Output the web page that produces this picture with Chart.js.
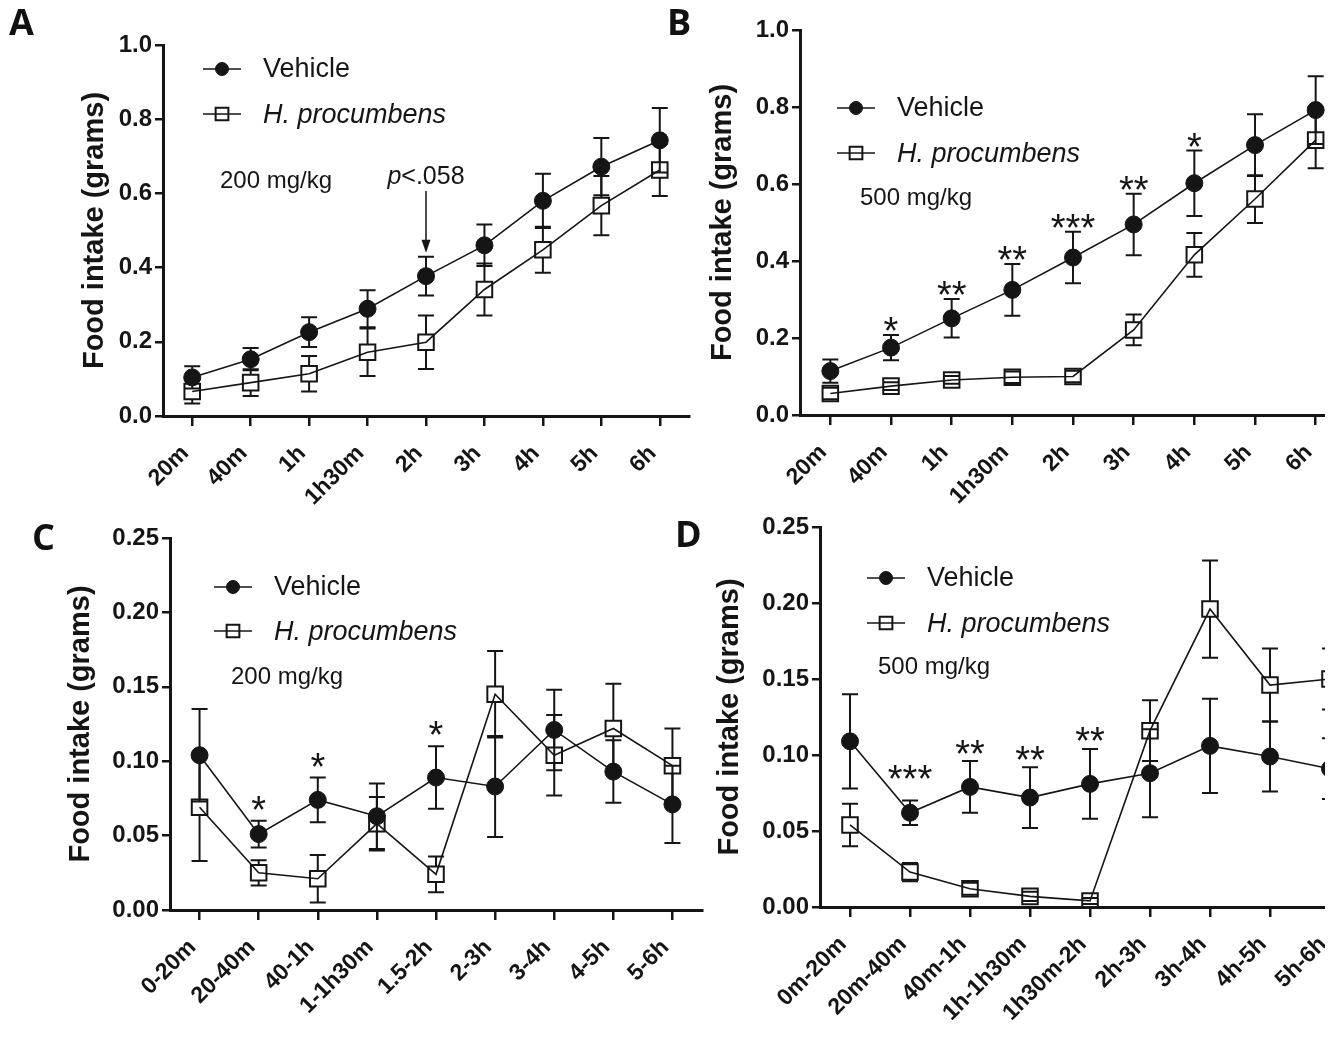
<!DOCTYPE html>
<html>
<head>
<meta charset="utf-8">
<title>Food intake</title>
<script src="https://cdn.jsdelivr.net/npm/chart.js@4.4.1/dist/chart.umd.min.js"></script>
<style>
  html, body { margin: 0; padding: 0; background: #fff; }
  #figure { position: relative; width: 1325px; height: 1039px; overflow: hidden; background: #fff; }
  .panel { position: absolute; }
  .letter { position: absolute; font: bold 36px 'Open Sans', 'Liberation Sans', sans-serif; line-height: 1; color: #111; }
</style>
</head>
<body>
<div id="figure">
  <div class="panel" style="left:0;top:0"><canvas id="chartA" width="702" height="510"></canvas></div>
  <div class="panel" style="left:690px;top:0"><canvas id="chartB" width="669" height="510"></canvas></div>
  <div class="panel" style="left:0;top:500px"><canvas id="chartC" width="715" height="539"></canvas></div>
  <div class="panel" style="left:700px;top:500px"><canvas id="chartD" width="673" height="539"></canvas></div>
  <div class="letter" style="left:9px;top:4px">A</div>
  <div class="letter" style="left:667px;top:4px">B</div>
  <div class="letter" style="left:32px;top:519px">C</div>
  <div class="letter" style="left:675px;top:516px">D</div>
</div>
<script>
// Categories
const timeLabels = ['20m', '40m', '1h', '1h30m', '2h', '3h', '4h', '5h', '6h'];
const intervalLabelsC = ['0-20m', '20-40m', '40-1h', '1-1h30m', '1.5-2h', '2-3h', '3-4h', '4-5h', '5-6h'];
const intervalLabelsD = ['0m-20m', '20m-40m', '40m-1h', '1h-1h30m', '1h30m-2h', '2h-3h', '3h-4h', '4h-5h', '5h-6h'];

// Y tick labels
const ticksCumulative = [0, 0.2, 0.4, 0.6, 0.8, 1.0];
const ticksInterval = [0, 0.05, 0.10, 0.15, 0.20, 0.25];

// A - cumulative, 200 mg/kg
const vehicleA = [0.104, 0.153, 0.226, 0.289, 0.377, 0.460, 0.580, 0.672, 0.743];
const vehicleAErr = [0.030, 0.030, 0.040, 0.050, 0.052, 0.056, 0.073, 0.077, 0.087];
const procA = [0.066, 0.090, 0.114, 0.172, 0.199, 0.341, 0.448, 0.567, 0.663];
const procAErr = [0.032, 0.036, 0.048, 0.064, 0.072, 0.070, 0.062, 0.080, 0.070];

// B - cumulative, 500 mg/kg
const vehicleB = [0.114, 0.175, 0.251, 0.325, 0.409, 0.495, 0.602, 0.701, 0.792];
const vehicleBErr = [0.030, 0.033, 0.050, 0.067, 0.067, 0.080, 0.085, 0.080, 0.088];
const procB = [0.056, 0.075, 0.091, 0.098, 0.100, 0.221, 0.416, 0.561, 0.714];
const procBErr = [0.015, 0.010, 0.010, 0.015, 0.015, 0.040, 0.057, 0.062, 0.073];
const sigB = ['', '*', '**', '**', '***', '**', '*', '', ''];

// C - per interval, 200 mg/kg
const vehicleC = [0.104, 0.051, 0.074, 0.063, 0.089, 0.083, 0.121, 0.093, 0.071];
const vehicleCErr = [0.031, 0.009, 0.015, 0.022, 0.021, 0.034, 0.027, 0.021, 0.026];
const procC = [0.069, 0.025, 0.021, 0.058, 0.024, 0.145, 0.104, 0.122, 0.097];
const procCErr = [0.036, 0.0085, 0.016, 0.018, 0.012, 0.029, 0.027, 0.030, 0.025];
const sigC = ['', '*', '*', '', '*', '', '', '', ''];

// D - per interval, 500 mg/kg
const vehicleD = [0.109, 0.062, 0.079, 0.072, 0.081, 0.088, 0.106, 0.099, 0.091];
const vehicleDErr = [0.031, 0.008, 0.017, 0.020, 0.023, 0.029, 0.031, 0.023, 0.020];
const procD = [0.054, 0.023, 0.012, 0.007, 0.004, 0.116, 0.196, 0.146, 0.150];
const procDErr = [0.014, 0.006, 0.004, 0.003, 0.002, 0.020, 0.032, 0.024, 0.020];
const sigD = ['', '***', '**', '**', '**', '', '', '', ''];

const FONT = "'Liberation Sans', Arial, sans-serif";
const INK = '#151515';

/**
 * Error bars (SEM), drawn under the markers, skipped inside the symbol
 */
const errorBarPlugin = {
    id: 'errorBars',
    beforeDatasetsDraw(chart) {
        const ctx = chart.ctx;
        const y = chart.scales.y;
        chart.data.datasets.forEach((ds, di) => {
            const meta = chart.getDatasetMeta(di);
            ctx.save();
            ctx.strokeStyle = INK;
            ctx.lineWidth = 2;
            meta.data.forEach((pt, i) => {
                const v = ds.data[i], e = ds.errors[i];
                const top = y.getPixelForValue(v + e);
                const bot = y.getPixelForValue(v - e);
                const half = ds.markerHalf;
                ctx.beginPath();
                if (top < pt.y - half) { ctx.moveTo(pt.x, top); ctx.lineTo(pt.x, pt.y - half); }
                if (bot > pt.y + half) { ctx.moveTo(pt.x, pt.y + half); ctx.lineTo(pt.x, bot); }
                ctx.moveTo(pt.x - 8, top); ctx.lineTo(pt.x + 8, top);
                ctx.moveTo(pt.x - 8, bot); ctx.lineTo(pt.x + 8, bot);
                ctx.stroke();
            });
            ctx.restore();
        });
    }
};

/**
 * Legend, dose label, significance stars and the p-value arrow
 */
const notesPlugin = {
    id: 'panelNotes',
    afterDraw(chart, args, o) {
        const { ctx, chartArea } = chart;
        const x = chart.scales.x, y = chart.scales.y;
        const vehicle = chart.data.datasets[0];
        ctx.save();
        ctx.fillStyle = INK;
        ctx.strokeStyle = INK;

        // legend
        chart.data.datasets.forEach((ds, i) => {
            const cx = chartArea.left + o.legend.x;
            const cy = chartArea.top + o.legend.y + i * o.legend.gap;
            ctx.lineWidth = 1.6;
            ctx.beginPath();
            ctx.moveTo(cx - 19, cy); ctx.lineTo(cx + 19, cy);
            ctx.stroke();
            ctx.fillStyle = ds.pointBackgroundColor;
            ctx.lineWidth = ds.pointBorderWidth;
            Chart.helpers.drawPoint(ctx, { pointStyle: ds.pointStyle, radius: ds.legendRadius, borderWidth: ds.pointBorderWidth, rotation: 0 }, cx, cy);
            ctx.fillStyle = INK;
            ctx.font = (ds.italic ? 'italic ' : '') + '27px ' + FONT;
            ctx.textAlign = 'left';
            ctx.textBaseline = 'middle';
            ctx.fillText(ds.label, cx + 41, cy + 1);
        });

        // dose
        ctx.font = '24px ' + FONT;
        ctx.textAlign = 'left';
        ctx.textBaseline = 'middle';
        ctx.fillText(o.dose.text, chartArea.left + o.dose.x, chartArea.top + o.dose.y);

        // stars over vehicle error bars
        ctx.font = '38px ' + FONT;
        ctx.textAlign = 'center';
        ctx.textBaseline = 'alphabetic';
        (o.sig || []).forEach((s, i) => {
            if (!s) return;
            const gap = Array.isArray(o.sigGap) ? o.sigGap[i] : o.sigGap;
            const top = y.getPixelForValue(vehicle.data[i] + vehicle.errors[i]);
            ctx.fillText(s, x.getPixelForValue(i), top - gap + 21);
        });

        // p-value arrow
        if (o.arrow) {
            const ax = x.getPixelForValue(o.arrow.index);
            const baseY = chartArea.top + o.arrow.textY;
            ctx.font = 'italic 25px ' + FONT;
            const pw = ctx.measureText('p').width;
            ctx.font = '25px ' + FONT;
            const rest = '<.058';
            const rw = ctx.measureText(rest).width;
            const startX = ax - (pw + rw) / 2;
            ctx.textAlign = 'left';
            ctx.font = 'italic 25px ' + FONT;
            ctx.fillText('p', startX, baseY);
            ctx.font = '25px ' + FONT;
            ctx.fillText(rest, startX + pw, baseY);
            const tip = y.getPixelForValue(vehicle.data[o.arrow.index] + vehicle.errors[o.arrow.index]) - 4;
            ctx.lineWidth = 1.5;
            ctx.beginPath();
            ctx.moveTo(ax, baseY + 7); ctx.lineTo(ax, tip - 10);
            ctx.stroke();
            ctx.beginPath();
            ctx.moveTo(ax - 4.5, tip - 13); ctx.lineTo(ax + 4.5, tip - 13); ctx.lineTo(ax, tip);
            ctx.closePath();
            ctx.fill();
        }
        ctx.restore();
    }
};

function makeChart(id, cfg) {
    return new Chart(document.getElementById(id), {
        type: 'line',
        data: {
            labels: cfg.labels,
            datasets: [{
                label: 'Vehicle',
                data: cfg.vehicle,
                errors: cfg.vehicleErr,
                borderColor: INK,
                borderWidth: 1.6,
                pointStyle: 'circle',
                pointRadius: 8.5,
                pointBackgroundColor: INK,
                pointBorderColor: INK,
                pointBorderWidth: 1,
                legendRadius: 6.5,
                markerHalf: 8,
                tension: 0,
                fill: false
            }, {
                label: 'H. procumbens',
                italic: true,
                data: cfg.proc,
                errors: cfg.procErr,
                borderColor: INK,
                borderWidth: 1.6,
                pointStyle: 'rect',
                pointRadius: 11,
                pointBackgroundColor: 'rgba(255,255,255,0)',
                pointBorderColor: INK,
                pointBorderWidth: 2,
                legendRadius: 9,
                markerHalf: 8,
                tension: 0,
                fill: false
            }]
        },
        options: {
            responsive: false,
            animation: false,
            events: [],
            layout: { padding: { top: cfg.padTop, left: 0, right: 0, bottom: 0 } },
            plugins: {
                legend: { display: false },
                tooltip: { enabled: false },
                panelNotes: cfg.notes
            },
            scales: {
                x: {
                    offset: true,
                    afterFit: s => { s.height = cfg.xAxisHeight; },
                    ticks: {
                        autoSkip: false,
                        maxRotation: 45,
                        minRotation: 45,
                        padding: 14,
                        labelOffset: -7,
                        color: INK,
                        font: { family: FONT, size: 23, weight: 'bold' }
                    },
                    grid: { offset: false, drawOnChartArea: false, tickLength: 10, lineWidth: 2.5, color: INK },
                    border: { display: true, color: INK, width: 3 }
                },
                y: {
                    min: 0,
                    max: cfg.yTicks[cfg.yTicks.length - 1],
                    afterBuildTicks: s => { s.ticks = cfg.yTicks.map(v => ({ value: v })); },
                    afterFit: s => { s.width = cfg.yAxisWidth; },
                    ticks: {
                        padding: 3,
                        color: INK,
                        font: { family: FONT, size: 24, weight: 'bold' },
                        callback: v => Number(v).toFixed(cfg.yDecimals)
                    },
                    grid: { drawOnChartArea: false, tickLength: 8, lineWidth: 2.5, color: INK },
                    border: { display: true, color: INK, width: 3 },
                    title: {
                        display: true,
                        text: 'Food intake (grams)',
                        color: INK,
                        font: { family: FONT, size: 29, weight: 'bold' },
                        padding: { top: cfg.titlePad, bottom: 0 }
                    }
                }
            }
        },
        plugins: [errorBarPlugin, notesPlugin]
    });
}

makeChart('chartA', {
    labels: timeLabels, vehicle: vehicleA, vehicleErr: vehicleAErr, proc: procA, procErr: procAErr,
    yTicks: ticksCumulative, yDecimals: 1,
    yAxisWidth: 163, titlePad: 78, padTop: 45, xAxisHeight: 94,
    notes: {
        legend: { x: 59, y: 24, gap: 45 },
        dose: { text: '200 mg/kg', x: 57, y: 136 },
        arrow: { index: 4, textY: 139 }
    }
});

makeChart('chartB', {
    labels: timeLabels, vehicle: vehicleB, vehicleErr: vehicleBErr, proc: procB, procErr: procBErr,
    yTicks: ticksCumulative, yDecimals: 1,
    yAxisWidth: 110, titlePad: 16, padTop: 30, xAxisHeight: 95,
    notes: {
        legend: { x: 56, y: 78, gap: 45 },
        dose: { text: '500 mg/kg', x: 60, y: 168 },
        sig: sigB, sigGap: 12
    }
});

makeChart('chartC', {
    labels: intervalLabelsC, vehicle: vehicleC, vehicleErr: vehicleCErr, proc: procC, procErr: procCErr,
    yTicks: ticksInterval, yDecimals: 2,
    yAxisWidth: 170, titlePad: 64, padTop: 38, xAxisHeight: 129,
    notes: {
        legend: { x: 63, y: 49, gap: 44 },
        dose: { text: '200 mg/kg', x: 61, y: 139 },
        sig: sigC, sigGap: 19
    }
});

makeChart('chartD', {
    labels: intervalLabelsD, vehicle: vehicleD, vehicleErr: vehicleDErr, proc: procD, procErr: procDErr,
    yTicks: ticksInterval, yDecimals: 2,
    yAxisWidth: 120, titlePad: 13, padTop: 27, xAxisHeight: 132,
    notes: {
        legend: { x: 66, y: 51, gap: 45 },
        dose: { text: '500 mg/kg', x: 58, y: 140 },
        sig: sigD, sigGap: [0, 30, 15, 15, 16, 0, 0, 0, 0]
    }
});
</script>
</body>
</html>
